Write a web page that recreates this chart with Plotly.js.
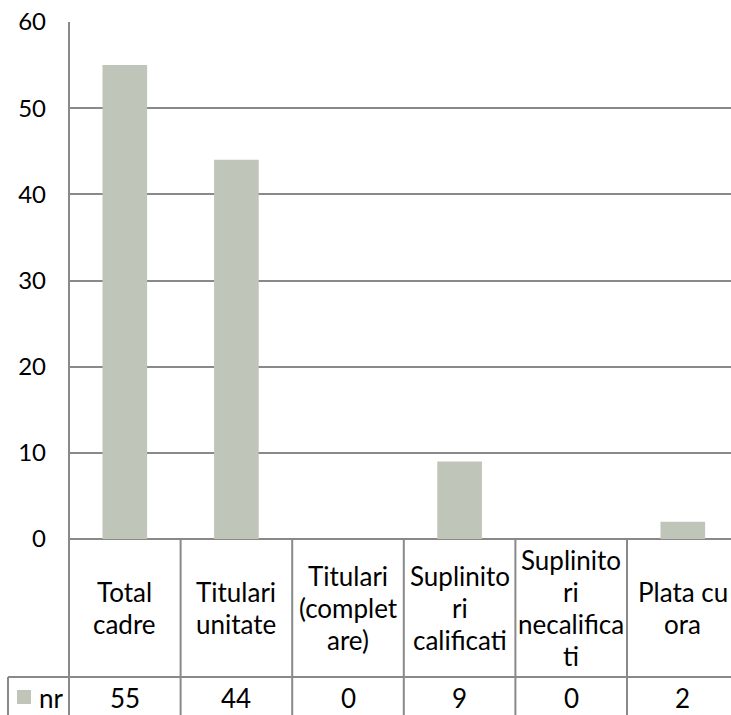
<!DOCTYPE html>
<html>
<head>
<meta charset="utf-8">
<script src="https://cdn.plot.ly/plotly-3.0.1.min.js"></script>
<style>html,body{margin:0;padding:0;background:#fff;}#chart{width:731px;height:715px;}</style>
</head>
<body>
<div id="chart"></div>
<script>
const categories = ["Total cadre", "Titulari unitate", "Titulari (completare)", "Suplinitori calificati", "Suplinitori necalificati", "Plata cu ora"];
const categoryLabels = [["Total", "cadre"], ["Titulari", "unitate"], ["Titulari", "(complet", "are)"], ["Suplinito", "ri", "calificati"], ["Suplinito", "ri", "necalifica", "ti"], ["Plata cu", "ora"]];
const seriesName = "nr";
const values = [55, 44, 0, 9, 0, 2];
const yTicks = [0, 10, 20, 30, 40, 50, 60];

// layout geometry (pixels)
const W = 731, H = 715;
const L = 69, T = 22, B0 = 539; // plot left, top, zero line
const plotW = W - L, plotH = B0 - T;
const rowLine = 677;
const tableLeft = 8;
const catStep = 111.6;
const headerMid = 608, lineGap = 32.3, valueMid = 698;
const py = p => -(p - B0) / plotH;          // pixel y -> paper y
const px = p => (p - L) / plotW;            // pixel x -> paper x
const lineColor = "#898989";
const font = "Lato, 'Open Sans', sans-serif";
const txtSize = 26;

const shapes = [];
for (let i = 0; i < categories.length - 1; i++) {
  shapes.push({type: "line", xref: "x", yref: "paper", x0: i + 0.5, x1: i + 0.5, y0: 0, y1: py(H + 2), line: {color: lineColor, width: 2}});
}
shapes.push({type: "line", xref: "paper", yref: "paper", x0: 0, x1: 0, y0: 1, y1: py(H + 2), line: {color: lineColor, width: 2}});
shapes.push({type: "line", xref: "paper", yref: "paper", x0: px(tableLeft), x1: 1.01, y0: py(rowLine), y1: py(rowLine), line: {color: lineColor, width: 2}});
shapes.push({type: "line", xref: "paper", yref: "paper", x0: px(tableLeft), x1: px(tableLeft), y0: py(rowLine), y1: py(H + 2), line: {color: lineColor, width: 2}});
shapes.push({type: "rect", xref: "paper", yref: "paper", x0: px(17), x1: px(31), y0: py(690), y1: py(704), fillcolor: "#BFC5B8", line: {width: 0}});

const annotations = [];
categoryLabels.forEach((lines, i) => {
  const n = lines.length;
  lines.forEach((ln, k) => {
    const yc = headerMid + (k - (n - 1) / 2) * lineGap;
    annotations.push({xref: "x", yref: "paper", x: i, y: py(yc), text: ln, showarrow: false, xanchor: "center", yanchor: "middle", font: {family: font, size: txtSize, color: "#000"}});
  });
  annotations.push({xref: "x", yref: "paper", x: i, y: py(valueMid), text: String(values[i]), showarrow: false, xanchor: "center", yanchor: "middle", font: {family: font, size: txtSize, color: "#000"}});
});
annotations.push({xref: "paper", yref: "paper", x: px(37), y: py(valueMid), text: seriesName, showarrow: false, xanchor: "left", yanchor: "middle", font: {family: font, size: txtSize, color: "#000"}});

const data = [{
  type: "bar",
  x: categories.map((c, i) => i),
  y: values,
  name: seriesName,
  width: 0.4,
  marker: {color: "#BFC5B8", line: {width: 0}},
  hoverinfo: "none"
}];

const layout = {
  width: W, height: H,
  margin: {l: L, r: 0, t: T, b: H - B0, pad: 0},
  paper_bgcolor: "#fff", plot_bgcolor: "#fff",
  showlegend: false,
  xaxis: {range: [-0.5, -0.5 + plotW / catStep], showticklabels: false, showgrid: false, zeroline: false, showline: false, ticks: "", fixedrange: true},
  yaxis: {range: [0, 60], tickvals: yTicks, ticktext: yTicks.map(String), showgrid: true, gridcolor: lineColor, gridwidth: 2, zeroline: true, zerolinecolor: lineColor, zerolinewidth: 2, showline: false, ticks: "", ticklabelstandoff: 22, tickfont: {family: font, size: 24, color: "#000"}, fixedrange: true},
  shapes: shapes,
  annotations: annotations
};

Plotly.newPlot("chart", data, layout, {displayModeBar: false, staticPlot: true});
</script>
</body>
</html>
